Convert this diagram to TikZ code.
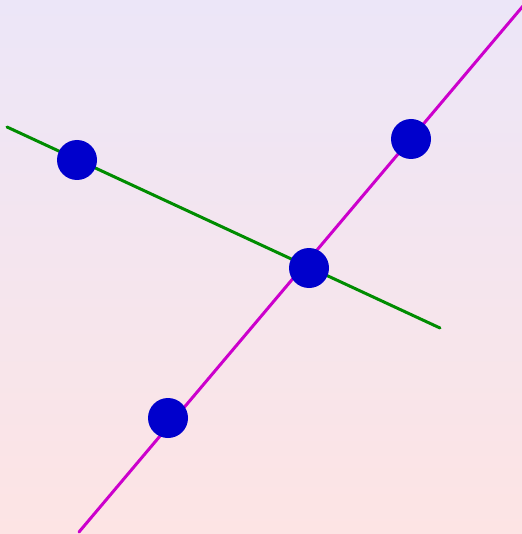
\documentclass[tikz,border=0pt]{standalone}
\usepackage{tikz}
\definecolor{bgtop}{RGB}{236,230,248}
\definecolor{bgbot}{RGB}{253,228,228}
\definecolor{lgreen}{RGB}{0,140,0}
\definecolor{lmag}{RGB}{204,0,204}
\definecolor{dotblue}{RGB}{0,0,204}
\tikzset{
  dot/.style={circle,fill=dotblue,inner sep=0pt,minimum size=20pt},
  greenline/.style={lgreen,line width=1.5pt},
  magline/.style={lmag,line width=1.5pt}
}
\begin{document}
\begin{tikzpicture}[x=0.5pt,y=-0.5pt,line cap=round,line join=round]
  \shade[top color=bgtop,bottom color=bgbot] (0,0) rectangle (522,534);
  \useasboundingbox (0,0) rectangle (522,534);
  % end points of the two lines
  \coordinate (g1) at (7,127);
  \coordinate (g2) at (440,328);
  \coordinate (m1) at (79,532);
  \coordinate (m2) at (523,6);
  \draw[greenline] (g1) -- (g2);
  \draw[magline] (m1) -- (m2);
  \foreach \x/\y/\n in {77/160/a, 411/139/b, 309/268/c, 168/418/d}{
    \node[dot] (\n) at (\x,\y) {};
  }
\end{tikzpicture}
\end{document}
